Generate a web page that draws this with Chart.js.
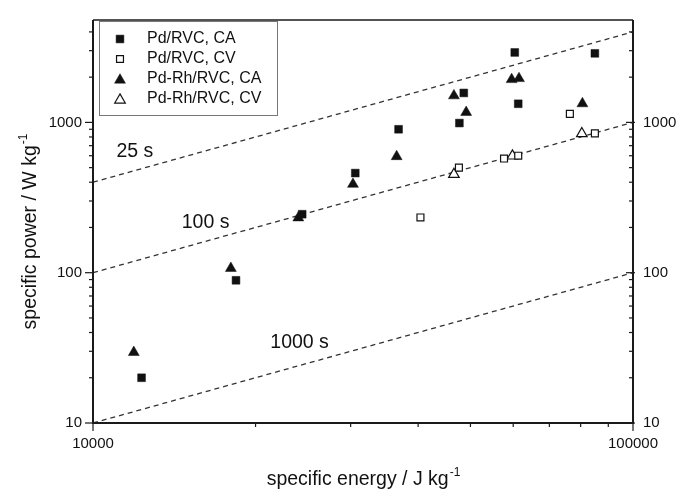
<!DOCTYPE html>
<html>
<head>
<meta charset="utf-8">
<script src="https://cdn.jsdelivr.net/npm/chart.js@4.4.0/dist/chart.umd.min.js"></script>
<style>
  html, body { margin: 0; padding: 0; background: #fff; }
</style>
</head>
<body>
<canvas id="chart" width="679" height="489"></canvas>
<script>
// values (specific energy in J/kg, specific power in W/kg)
const energyPdCA = [12300, 18400, 24400, 30600, 36800, 47700, 48600, 60400, 61300, 85000];
const powerPdCA = [20, 89, 245, 460, 900, 990, 1570, 2920, 1330, 2880];

const energyPdCV = [40400, 47600, 57700, 61300, 76400, 85000];
const powerPdCV = [233, 500, 575, 600, 1140, 845];

const energyPdRhCA = [11900, 18000, 24000, 30300, 36500, 46600, 49100, 59600, 61500, 80600];
const powerPdRhCA = [29.5, 107, 232, 388, 593, 1505, 1167, 1930, 1960, 1333];

const energyPdRhCV = [46600, 59800, 80400];
const powerPdRhCV = [451, 598, 843];

// constant time lines (25 s, 100 s, 1000 s)
const lineEnergy = [10000, 100000];
const line25s = [400, 4000];
const line100s = [100, 1000];
const line1000s = [10, 100];

const lineLabels = ['25 s', '100 s', '1000 s'];
const lineLabelEnergy = [11050, 14600, 21300];
const lineLabelPower = [638, 217, 34];

const seriesNames = ['Pd/RVC, CA', 'Pd/RVC, CV', 'Pd-Rh/RVC, CA', 'Pd-Rh/RVC, CV'];
const xTicks = [10000, 100000];
const yTicks = [10, 100, 1000];

const FONT = '"Liberation Sans", Arial, sans-serif';
const INK = '#111';

function pts(xs, ys) {
    return xs.map((x, i) => ({ x: x, y: ys[i] }));
}

function markers(label, xs, ys, style, filled, r) {
    return {
        label: label,
        data: pts(xs, ys),
        pointStyle: style,
        pointRadius: r,
        backgroundColor: filled ? INK : '#fff',
        borderColor: INK,
        borderWidth: filled ? 0.5 : 1.2,
        showLine: false,
        order: 0
    };
}

function dashed(ys) {
    return {
        label: '',
        data: pts(lineEnergy, ys),
        showLine: true,
        pointRadius: 0,
        borderColor: '#333',
        borderWidth: 1.3,
        borderDash: [5, 4],
        fill: false,
        order: 1
    };
}

function isDecadeTick(v) {
    const e = Math.floor(Math.log10(v) + 1e-9);
    const m = v / Math.pow(10, e);
    return Math.abs(m - Math.round(m)) < 1e-6 ? Math.round(m) : 0;
}

const frame = {
    id: 'frame',
    afterDatasetsDraw(chart) {
        const ctx = chart.ctx;
        const a = chart.chartArea;
        ctx.save();
        ctx.strokeStyle = '#1a1a1a';
        ctx.lineWidth = 1.2;
        // tick marks
        chart.scales.x.ticks.forEach(t => {
            const m = isDecadeTick(t.value);
            if (!m) return;
            const len = m === 1 ? 8 : 4;
            const p = chart.scales.x.getPixelForValue(t.value);
            ctx.beginPath(); ctx.moveTo(p, a.bottom); ctx.lineTo(p, a.bottom + len); ctx.stroke();
        });
        chart.scales.y.ticks.forEach(t => {
            const m = isDecadeTick(t.value);
            if (!m) return;
            const len = m === 1 ? 8 : 4;
            const p = chart.scales.y.getPixelForValue(t.value);
            ctx.beginPath(); ctx.moveTo(a.left - len, p); ctx.lineTo(a.left, p); ctx.stroke();
        });
        chart.scales.y2.ticks.forEach(t => {
            const m = isDecadeTick(t.value);
            if (!m) return;
            const len = m === 1 ? 7 : 4;
            const p = chart.scales.y2.getPixelForValue(t.value);
            ctx.beginPath(); ctx.moveTo(a.right - len, p); ctx.lineTo(a.right + (m === 1 ? 2 : 0), p); ctx.stroke();
        });
        // box
        ctx.lineWidth = 2;
        ctx.beginPath();
        ctx.moveTo(a.left, a.top); ctx.lineTo(a.left, a.bottom); ctx.lineTo(a.right, a.bottom); ctx.lineTo(a.right, a.top);
        ctx.stroke();
        ctx.lineWidth = 1.5;
        ctx.beginPath(); ctx.moveTo(a.left, a.top); ctx.lineTo(a.right, a.top); ctx.stroke();
        ctx.restore();
    },
    afterDraw(chart) {
        const ctx = chart.ctx;
        const a = chart.chartArea;
        const xs = chart.scales.x, ys = chart.scales.y;
        ctx.save();
        ctx.fillStyle = INK;

        // labels on the constant-time lines
        ctx.font = '19.5px ' + FONT;
        ctx.textAlign = 'left';
        ctx.textBaseline = 'middle';
        lineLabels.forEach((s, i) => {
            ctx.fillText(s, xs.getPixelForValue(lineLabelEnergy[i]), ys.getPixelForValue(lineLabelPower[i]));
        });

        // axis titles with superscript
        function title(main, sup, cx, base) {
            ctx.font = '19.5px ' + FONT;
            const w1 = ctx.measureText(main).width;
            ctx.font = '12px ' + FONT;
            const w2 = ctx.measureText(sup).width;
            const x0 = cx - (w1 + w2) / 2;
            ctx.textAlign = 'left';
            ctx.textBaseline = 'alphabetic';
            ctx.font = '19.5px ' + FONT;
            ctx.fillText(main, x0, base);
            ctx.font = '12px ' + FONT;
            ctx.fillText(sup, x0 + w1 + 1, base - 9);
        }
        title('specific energy / J kg', '-1', (a.left + a.right) / 2, 485);
        ctx.save();
        ctx.translate(36, 232);
        ctx.rotate(-Math.PI / 2);
        title('specific power / W kg', '-1', 0, 0);
        ctx.restore();

        // legend
        ctx.strokeStyle = '#777';
        ctx.lineWidth = 1;
        ctx.strokeRect(99.5, 21.5, 178, 94);
        const sets = chart.data.datasets.filter(d => d.order === 0);
        sets.forEach((d, i) => {
            const y = 39 + i * 20;
            ctx.fillStyle = d.backgroundColor;
            ctx.strokeStyle = d.borderColor;
            ctx.lineWidth = d.borderWidth;
            Chart.helpers.drawPoint(ctx, { pointStyle: d.pointStyle, radius: d.pointRadius, borderWidth: d.borderWidth, rotation: 0 }, 120, y + (d.pointStyle === 'triangle' ? 1 : 0));
            ctx.fillStyle = INK;
            ctx.font = '16px ' + FONT;
            ctx.textAlign = 'left';
            ctx.textBaseline = 'middle';
            ctx.fillText(d.label, 147, y);
        });
        ctx.restore();
    }
};

function logAxis(pos, min, max, width, pad, labels) {
    return {
        type: 'logarithmic',
        position: pos,
        min: min,
        max: max,
        grid: { display: false, drawTicks: false },
        border: { display: false },
        ticks: {
            autoSkip: false,
            maxRotation: 0,
            padding: pad,
            color: INK,
            font: { family: FONT, size: 15 },
            callback: (v) => labels.includes(v) ? String(v) : ''
        },
        afterFit: (s) => {
            if (pos === 'bottom') s.height = width; else s.width = width;
        }
    };
}

new Chart(document.getElementById('chart').getContext('2d'), {
    type: 'scatter',
    data: {
        datasets: [
            markers(seriesNames[0], energyPdCA, powerPdCA, 'rect', true, 5.5),
            markers(seriesNames[1], energyPdCV, powerPdCV, 'rect', false, 4.9),
            markers(seriesNames[2], energyPdRhCA, powerPdRhCA, 'triangle', true, 6.3),
            markers(seriesNames[3], energyPdRhCV, powerPdRhCV, 'triangle', false, 6.1),
            dashed(line25s),
            dashed(line100s),
            dashed(line1000s)
        ]
    },
    options: {
        responsive: false,
        animation: false,
        events: [],
        layout: { padding: { top: 14, left: 0, right: 0, bottom: 0 } },
        plugins: { legend: { display: false }, tooltip: { enabled: false } },
        scales: {
            x: logAxis('bottom', 10000, 100000, 66, 12, xTicks),
            y: logAxis('left', 10, 4800, 93, 11, yTicks),
            y2: logAxis('right', 10, 4800, 46, 10, yTicks)
        }
    },
    plugins: [frame]
});
</script>
</body>
</html>
